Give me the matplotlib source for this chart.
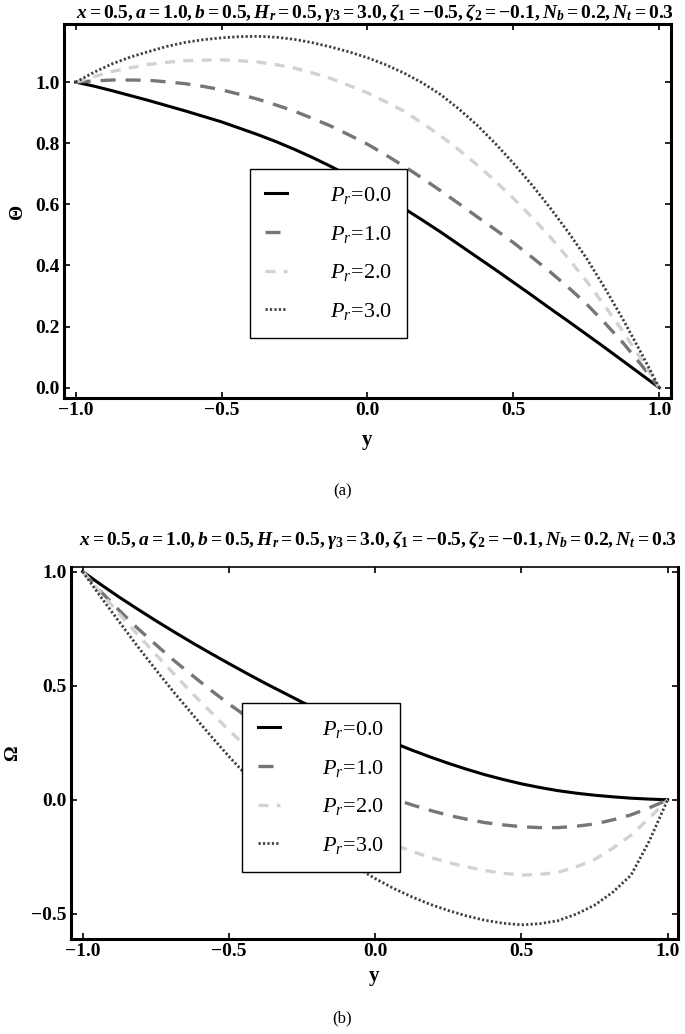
import numpy as np
import matplotlib
matplotlib.use("Agg")
import matplotlib.pyplot as plt

plt.rcParams['font.family'] = ['Liberation Serif', 'DejaVu Serif']
plt.rcParams['mathtext.fontset'] = 'custom'
plt.rcParams['mathtext.rm'] = 'Liberation Serif:bold'
plt.rcParams['mathtext.it'] = 'Liberation Serif:italic:bold'
plt.rcParams['mathtext.bf'] = 'Liberation Serif:bold'
plt.rcParams['mathtext.sf'] = 'Liberation Serif:italic'

# sample points along y
y_pts = [-1.0, -0.9375, -0.875, -0.8125, -0.75, -0.6875, -0.625, -0.5625,
         -0.5, -0.4375, -0.375, -0.3125, -0.25, -0.1875, -0.125, -0.0625,
         0.0, 0.0625, 0.125, 0.1875, 0.25, 0.3125, 0.375, 0.4375,
         0.5, 0.5625, 0.625, 0.6875, 0.75, 0.8125, 0.875, 0.9375, 1.0]

pr_labels = [r'$\mathsf{P}_\mathsf{r}$=0.0', r'$\mathsf{P}_\mathsf{r}$=1.0',
             r'$\mathsf{P}_\mathsf{r}$=2.0', r'$\mathsf{P}_\mathsf{r}$=3.0']

# panel (a): Theta
theta_pr0 = [1.0, 0.987, 0.972, 0.956, 0.94, 0.923, 0.906, 0.888, 0.87, 0.849,
             0.828, 0.805, 0.78, 0.753, 0.724, 0.693, 0.66, 0.624, 0.587, 0.549,
             0.51, 0.469, 0.428, 0.387, 0.345, 0.303, 0.26, 0.218, 0.175, 0.132,
             0.088, 0.044, 0.0]
theta_pr1 = [1.0, 1.004, 1.007, 1.007, 1.006, 1.001, 0.995, 0.986, 0.975, 0.960,
             0.944, 0.925, 0.905, 0.881, 0.856, 0.827, 0.797, 0.762, 0.725, 0.686,
             0.645, 0.603, 0.56, 0.518, 0.475, 0.428, 0.38, 0.329, 0.275, 0.213,
             0.148, 0.076, 0.0]
theta_pr2 = [1.0, 1.018, 1.035, 1.047, 1.058, 1.065, 1.07, 1.072, 1.073, 1.070,
             1.066, 1.057, 1.046, 1.030, 1.012, 0.989, 0.965, 0.936, 0.905, 0.866,
             0.825, 0.779, 0.73, 0.677, 0.62, 0.559, 0.495, 0.424, 0.35, 0.269,
             0.185, 0.094, 0.0]
theta_pr3 = [1.0, 1.032, 1.06, 1.082, 1.1, 1.117, 1.13, 1.139, 1.145, 1.149,
             1.15, 1.147, 1.14, 1.129, 1.115, 1.099, 1.08, 1.057, 1.03, 0.998,
             0.96, 0.913, 0.86, 0.80, 0.735, 0.665, 0.59, 0.51, 0.425, 0.328,
             0.225, 0.115, 0.0]

# panel (b): Omega
omega_pr0 = [1.0, 0.943, 0.888, 0.836, 0.785, 0.736, 0.688, 0.642, 0.597, 0.553,
             0.51, 0.469, 0.428, 0.39, 0.352, 0.317, 0.282, 0.25, 0.218, 0.188,
             0.16, 0.134, 0.11, 0.089, 0.07, 0.054, 0.04, 0.029, 0.02, 0.013,
             0.007, 0.003, 0.0]
omega_pr1 = [1.0, 0.912, 0.83, 0.752, 0.68, 0.61, 0.545, 0.481, 0.42, 0.363,
             0.31, 0.258, 0.21, 0.164, 0.12, 0.077, 0.035, 0.005, -0.022, -0.046,
             -0.068, -0.085, -0.1, -0.11, -0.118, -0.122, -0.122, -0.116, -0.106,
             -0.088, -0.066, -0.035, 0.0]
omega_pr2 = [1.0, 0.907, 0.815, 0.725, 0.637, 0.551, 0.466, 0.385, 0.305, 0.23,
             0.158, 0.092, 0.03, -0.025, -0.075, -0.12, -0.16, -0.195, -0.226,
             -0.252, -0.275, -0.294, -0.31, -0.322, -0.33, -0.327, -0.318, -0.294,
             -0.262, -0.212, -0.155, -0.08, 0.0]
omega_pr3 = [1.0, 0.888, 0.78, 0.673, 0.57, 0.47, 0.375, 0.281, 0.19, 0.104,
             0.02, -0.055, -0.125, -0.188, -0.245, -0.298, -0.345, -0.388, -0.425,
             -0.458, -0.485, -0.509, -0.528, -0.541, -0.548, -0.543, -0.53, -0.501,
             -0.462, -0.405, -0.33, -0.18, 0.0]

title_txt = (r'$x=0.5, a=1.0, b=0.5, H_r=0.5, \gamma_3=3.0, '
             r'\zeta_1=-0.5, \zeta_2=-0.1, N_b=0.2, N_t=0.3$')

styles = [
    dict(color='black', lw=2.2, linestyle='-'),
    dict(color='#767676', lw=2.4, dashes=(4.5, 3.0)),
    dict(color='#d2d2d2', lw=2.4, dashes=(3.0, 2.5)),
    dict(color='#404040', lw=2.0, dashes=(0.8, 0.8)),
]

fig = plt.figure(figsize=(6.85, 10.34), dpi=100)
ax1 = fig.add_axes([0.0934, 0.615, 0.886, 0.3617])
ax2 = fig.add_axes([0.1036, 0.0919, 0.886, 0.3597])


def style_axes(ax):
    for s in ax.spines.values():
        s.set_linewidth(2.2)
    ax.tick_params(direction='in', length=4, width=1.2, top=True, right=True,
                   labelsize=14, pad=3)
    for lab in ax.get_xticklabels() + ax.get_yticklabels():
        lab.set_fontweight('bold')


def add_legend(ax, anchor):
    leg = ax.legend(loc='upper left', bbox_to_anchor=anchor, borderaxespad=0,
                    fancybox=False, edgecolor='black', framealpha=1, fontsize=16,
                    handlelength=1.0, handletextpad=1.9, labelspacing=0.8,
                    borderpad=0.7)
    leg.get_frame().set_linewidth(1.0)


for vals, st, lab in zip([theta_pr0, theta_pr1, theta_pr2, theta_pr3], styles, pr_labels):
    ax1.plot(y_pts, vals, label=lab, **st)
ax1.set_xlim(-1.04, 1.04)
ax1.set_ylim(-0.034, 1.19)
ax1.set_xticks([-1.0, -0.5, 0.0, 0.5, 1.0])
ax1.set_yticks([0.0, 0.2, 0.4, 0.6, 0.8, 1.0])
ax1.set_xticklabels(['\u22121.0', '\u22120.5', '0.0', '0.5', '1.0'])
ax1.set_yticklabels(['0.0', '0.2', '0.4', '0.6', '0.8', '1.0'])
style_axes(ax1)
ax1.set_xlabel('y', fontsize=15, fontweight='bold', labelpad=8)
ax1.set_ylabel('\u0398', fontsize=14, fontweight='bold', labelpad=7)
add_legend(ax1, (0.306, 0.612))

for vals, st, lab in zip([omega_pr0, omega_pr1, omega_pr2, omega_pr3], styles, pr_labels):
    ax2.plot(y_pts, vals, label=lab, **st)
ax2.set_xlim(-1.04, 1.035)
ax2.set_ylim(-0.61, 1.02)
ax2.set_xticks([-1.0, -0.5, 0.0, 0.5, 1.0])
ax2.set_yticks([-0.5, 0.0, 0.5, 1.0])
ax2.set_xticklabels(['\u22121.0', '\u22120.5', '0.0', '0.5', '1.0'])
ax2.set_yticklabels(['\u22120.5', '0.0', '0.5', '1.0'])
style_axes(ax2)
ax2.spines['top'].set_linewidth(1.2)
ax2.set_xlabel('y', fontsize=15, fontweight='bold', labelpad=4)
ax2.set_ylabel('\u03a9', fontsize=14, fontweight='bold', labelpad=7)
add_legend(ax2, (0.282, 0.634))

fig.text(0.548, 1 - 13 / 1034, title_txt, ha='center', va='center', fontsize=14)
fig.text(0.552, 1 - 540 / 1034, title_txt, ha='center', va='center', fontsize=14)
fig.text(0.5, 1 - 491 / 1034, '(a)', ha='center', va='center', fontsize=12)
fig.text(0.5, 1 - 1018 / 1034, '(b)', ha='center', va='center', fontsize=12)

fig.savefig('out.png', dpi=100)
